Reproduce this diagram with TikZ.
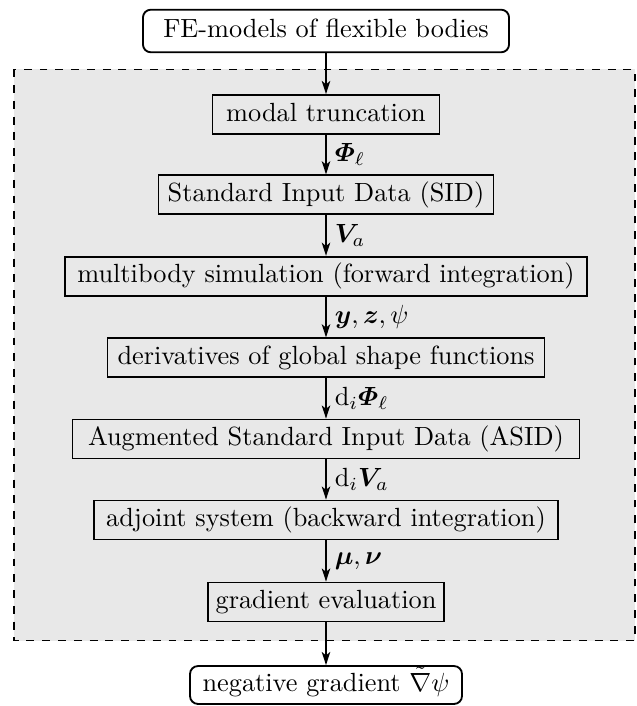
\documentclass[tikz,border=0pt]{standalone}
\usepackage{amsmath}
\usepackage{bm}
\usetikzlibrary{arrows.meta}
\definecolor{framefill}{gray}{0.91}
\tikzset{
  box/.style={draw, line width=0.7pt, inner sep=0pt, minimum height=14.8pt,
    text height=1.6ex, text depth=.45ex, font=\normalsize},
  termbox/.style={box, rounded corners=3pt, fill=white},
  arr/.style={line width=0.7pt, -{Stealth[length=5pt,width=3.2pt,inset=1.3pt]}},
  lbl/.style={anchor=west, inner sep=3pt, font=\normalsize},
  frame/.style={draw, dashed, line width=0.4pt, fill=framefill}
}
\begin{document}
\begin{tikzpicture}[x=0.3802pt, y=-0.3802pt]
\useasboundingbox (0,0) rectangle (636,706);
\draw[frame] (14,69.3) rectangle (635,640.7);
\node[termbox, minimum width=139.2pt, minimum height=16.2pt] (fe) at (326,31) {FE-models of flexible bodies};
\node[box, minimum width=86.3pt] (modal) at (326,114.5) {modal truncation};
\node[box, minimum width=127.4pt] (sid) at (326,194.8) {Standard Input Data (SID)};
\node[box, minimum width=198.5pt] (mbs) at (326,276.2) {multibody simulation (forward integration)};
\node[box, minimum width=166.1pt] (der) at (326,357.8) {derivatives of global shape functions};
\node[box, minimum width=192.8pt] (asid) at (326,439) {Augmented Standard Input Data (ASID)};
\node[box, minimum width=176.4pt] (adj) at (326,520) {adjoint system (backward integration)};
\node[box, minimum width=89.5pt] (grad) at (326,602) {gradient evaluation};
\node[termbox, minimum width=103.4pt, minimum height=14.4pt] (neg) at (326,685) {negative gradient $\tilde{\nabla}\psi$};
\draw[arr] (fe) -- (modal);
\draw[arr] (modal) -- node[lbl] {$\bm{\varPhi}_\ell$} (sid);
\draw[arr] (sid) -- node[lbl] {$\bm{V}_a$} (mbs);
\draw[arr] (mbs) -- node[lbl] {$\bm{y},\bm{z},\psi$} (der);
\draw[arr] (der) -- node[lbl] {$\mathrm{d}_i\bm{\varPhi}_\ell$} (asid);
\draw[arr] (asid) -- node[lbl] {$\mathrm{d}_i\bm{V}_a$} (adj);
\draw[arr] (adj) -- node[lbl] {$\bm{\mu},\bm{\nu}$} (grad);
\draw[arr] (grad) -- (neg);
\end{tikzpicture}
\end{document}
